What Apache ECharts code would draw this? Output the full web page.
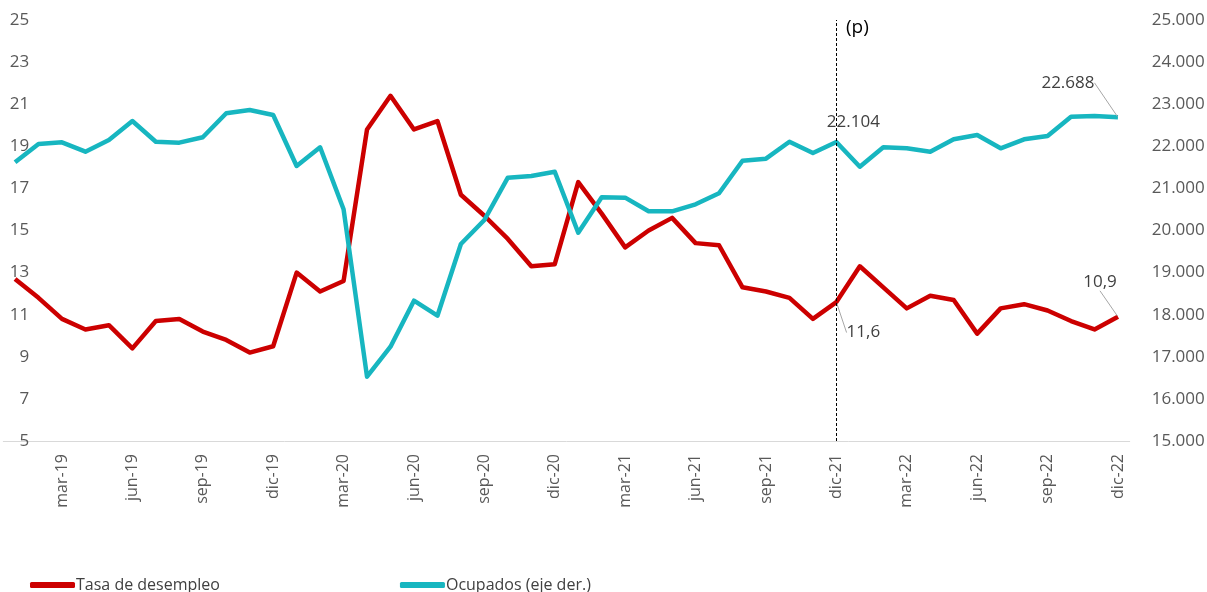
<!DOCTYPE html>
<html>
<head>
	<meta charset="UTF-8">
	<title></title>
	<style type="text/css">
		html, body { margin: 0; padding: 0; background: #fff; }
		.data { width: 1207px; height: 592px; }
	</style>
</head>
<body>
	<div class="data"></div>
	<script src="https://cdn.jsdelivr.net/npm/echarts@6.0.0/dist/echarts.min.js" type="text/javascript" charset="utf-8"></script>
	<script type="text/javascript">
		var meses = ['ene', 'feb', 'mar', 'abr', 'may', 'jun', 'jul', 'ago', 'sep', 'oct', 'nov', 'dic'];
		var anios = ['19', '20', '21', '22'];

		// Tasa de desempleo (%), eje izquierdo
		var desempleo = [
			12.7, 11.8, 10.8, 10.3, 10.5, 9.4, 10.7, 10.8, 10.2, 9.8, 9.2, 9.5,
			13.0, 12.1, 12.6, 19.8, 21.4, 19.8, 20.2, 16.7, 15.7, 14.6, 13.3, 13.4,
			17.3, 15.8, 14.2, 15.0, 15.6, 14.4, 14.3, 12.3, 12.1, 11.8, 10.8, 11.6,
			13.3, 12.3, 11.3, 11.9, 11.7, 10.1, 11.3, 11.5, 11.2, 10.7, 10.3, 10.9
		];

		// Ocupados (miles), eje derecho
		var ocupados = [
			21620, 22055, 22095, 21872, 22150, 22601, 22109, 22086, 22214, 22784, 22862, 22743,
			21532, 21976, 20504, 16527, 17240, 18333, 17976, 19679, 20249, 21254, 21295, 21397,
			19948, 20789, 20780, 20456, 20456, 20622, 20884, 21658, 21706, 22109, 21840, 22104,
			21515, 21976, 21952, 21872, 22166, 22268, 21952, 22166, 22245, 22703, 22720, 22688
		];

		var ejeIzq = [5, 25, 2];
		var ejeDer = [15000, 25000, 1000];
		var corte = 'dic-21';

		var categorias = [];
		anios.forEach(function(a) {
			meses.forEach(function(m) {
				categorias.push(m + '-' + a);
			});
		});

		function miles(v) {
			return String(Math.round(v)).replace(/\B(?=(\d{3})+(?!\d))/g, '.');
		}
		function decimal(v) {
			return v.toFixed(1).replace('.', ',');
		}

		var iCorte = categorias.indexOf(corte);
		var iFin = categorias.length - 1;
		var gris = '#595959';
		var fuente = 'Open Sans';
		var rojo = '#CC0000';
		var turquesa = '#17B6C0';

		// etiquetas: desplazamiento desde la posición 'top' y si llevan línea guía
		var etiquetas = {
			red: {},
			teal: {}
		};
		etiquetas.red[iCorte] = { d: [27, 45], linea: true };
		etiquetas.red[iFin] = { d: [-18, -20], linea: true };
		etiquetas.teal[iFin] = { d: [-50, -20], linea: true };
		etiquetas.teal[iCorte] = { d: [17, -5], linea: false };

		function datos(arr, fmt, et) {
			return arr.map(function(v, i) {
				if (et[i]) {
					return {
						value: v,
						label: { show: true, formatter: fmt(v) },
						labelLine: { show: et[i].linea }
					};
				}
				return v;
			});
		}

		function mover(et) {
			return function(p) {
				var m = et[p.dataIndex];
				return m ? { dx: m.d[0], dy: m.d[1] } : {};
			};
		}

		var chart = echarts.init(document.querySelector('.data'));

		option = {
			animation: false,
			textStyle: { fontFamily: fuente },
			grid: {
				left: 3.3,
				right: 77.3,
				top: 20,
				bottom: 151,
				outerBoundsMode: 'none'
			},
			legend: {
				left: 25,
				bottom: -6,
				itemWidth: 45,
				itemHeight: 6,
				itemGap: 180,
				icon: 'roundRect',
				textStyle: { color: '#404040', fontSize: 16, fontFamily: fuente, padding: [0, 0, 0, -4] },
				data: [
					{ name: 'Tasa de desempleo', itemStyle: { color: rojo } },
					{ name: 'Ocupados (eje der.)', itemStyle: { color: turquesa } }
				]
			},
			xAxis: {
				type: 'category',
				data: categorias,
				boundaryGap: true,
				axisLine: { lineStyle: { color: '#D9D9D9', width: 1 } },
				axisTick: {
					length: 7,
					interval: function(i) { return i % 3 === 2; },
					lineStyle: { color: '#D9D9D9' }
				},
				axisLabel: {
					rotate: 90,
					margin: 13,
					color: gris,
					fontSize: 16,
					fontFamily: fuente,
					interval: function(i) { return i % 3 === 2; }
				}
			},
			yAxis: [{
				type: 'value',
				min: ejeIzq[0],
				max: ejeIzq[1],
				interval: ejeIzq[2],
				splitLine: { show: false },
				axisLine: { show: false },
				axisTick: { show: false },
				axisLabel: { color: gris, fontSize: 17, fontFamily: fuente, margin: -26, align: 'right' }
			}, {
				type: 'value',
				min: ejeDer[0],
				max: ejeDer[1],
				interval: ejeDer[2],
				splitLine: { show: false },
				axisLine: { show: false },
				axisTick: { show: false },
				axisLabel: { color: gris, fontSize: 17, fontFamily: fuente, margin: 22, formatter: miles }
			}],
			series: [{
				name: 'Tasa de desempleo',
				type: 'line',
				yAxisIndex: 0,
				showSymbol: true,
				showAllSymbol: true,
				symbol: 'circle',
				symbolSize: 2,
				itemStyle: { color: 'transparent', borderWidth: 0 },
				lineStyle: { width: 4.5, color: rojo, join: 'round' },
				label: { show: false, position: 'top', color: '#404040', fontSize: 17, fontFamily: fuente },
				labelLine: { show: true, lineStyle: { color: '#A6A6A6', width: 1 } },
				labelLayout: mover(etiquetas.red),
				data: datos(desempleo, decimal, etiquetas.red)
			}, {
				name: 'Ocupados (eje der.)',
				type: 'line',
				yAxisIndex: 1,
				showSymbol: true,
				showAllSymbol: true,
				symbol: 'circle',
				symbolSize: 2,
				itemStyle: { color: 'transparent', borderWidth: 0 },
				lineStyle: { width: 4.5, color: turquesa, join: 'round' },
				label: { show: false, position: 'top', color: '#404040', fontSize: 17, fontFamily: fuente },
				labelLine: { show: true, lineStyle: { color: '#A6A6A6', width: 1 } },
				labelLayout: mover(etiquetas.teal),
				data: datos(ocupados, miles, etiquetas.teal),
				markLine: {
					silent: true,
					symbol: 'none',
					lineStyle: { color: '#000', type: [3, 2], width: 1 },
					label: {
						show: true,
						position: 'end',
						formatter: '(p)',
						color: '#000',
						fontSize: 19,
						fontFamily: fuente,
						offset: [21, 22]
					},
					data: [{ xAxis: corte }]
				}
			}]
		};

		chart.setOption(option);
	</script>
</body>
</html>
